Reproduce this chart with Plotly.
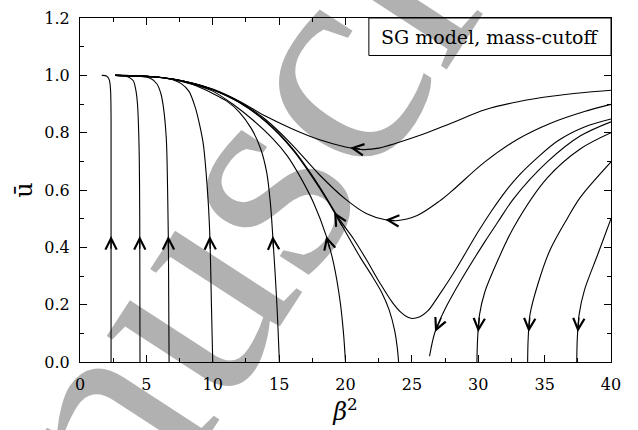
import numpy as np
import plotly.graph_objects as go

# ---- flow lines (beta^2, u-bar) ----
a1_x = [1.64, 2.0, 2.2, 2.3, 2.34, 2.34]
a1_y = [1.0, 0.998, 0.985, 0.95, 0.85, 0.0]
a2_x = [2.64, 3.5, 4.0, 4.2, 4.33, 4.45, 4.5, 4.52]
a2_y = [1.0, 0.997, 0.982, 0.95, 0.9, 0.75, 0.5, 0.0]
a3_x = [2.64, 4.5, 5.3, 5.8, 6.1, 6.28, 6.5, 6.6, 6.66, 6.71]
a3_y = [1.0, 0.997, 0.99, 0.97, 0.935, 0.89, 0.78, 0.6, 0.415, 0.0]
a4_x = [2.64, 4.5, 6.0, 7.0, 7.6, 8.2, 8.67, 9.0, 9.29, 9.5, 9.67, 9.8, 9.9, 10.0]
a4_y = [1.0, 0.997, 0.993, 0.985, 0.972, 0.945, 0.89, 0.83, 0.76, 0.66, 0.55, 0.415, 0.2, 0.0]
a5_x = [2.64, 5.5, 7.0, 8.5, 10.0, 11.06, 12.0, 12.9, 13.6, 14.07, 14.35, 14.52, 14.82, 15.02]
a5_y = [1.0, 0.995, 0.986, 0.968, 0.937, 0.91, 0.872, 0.815, 0.745, 0.66, 0.55, 0.44, 0.211, 0.0]
a6_x = [2.64, 5.5, 7.0, 8.5, 10.0, 11.5, 13.0, 14.5, 15.6, 16.6, 17.6, 18.55, 19.1, 19.6, 19.85, 20.0]
a6_y = [1.0, 0.995, 0.986, 0.969, 0.945, 0.9, 0.845, 0.78, 0.72, 0.645, 0.555, 0.44, 0.345, 0.21, 0.1, 0.0]
b1_x = [2.64, 4.0, 5.5, 7.0, 8.5, 10.0, 12.0, 14.0, 16.0, 18.0, 20.0, 21.3, 22.5,
        25.5, 28.0, 30.5, 33.0, 35.5, 38.0, 40.0]
b1_y = [1.0, 0.999, 0.995, 0.987, 0.972, 0.952, 0.91, 0.857, 0.813, 0.776, 0.75, 0.741, 0.746,
        0.789, 0.834, 0.88, 0.908, 0.927, 0.94, 0.948]
b2_x = [2.64, 4.0, 5.5, 7.0, 8.5, 10.0, 12.0, 14.0, 16.0, 18.0, 20.0, 21.6, 23.0, 23.8,
        25.4, 27.1, 28.0, 30.5, 33.0, 35.5, 38.0, 40.0]
b2_y = [1.0, 0.999, 0.995, 0.987, 0.972, 0.951, 0.908, 0.845, 0.757, 0.655, 0.568, 0.517, 0.496, 0.493,
        0.511, 0.562, 0.596, 0.698, 0.778, 0.834, 0.874, 0.899]
b3_x = [2.64, 4.0, 5.5, 7.0, 8.5, 10.0, 12.0, 14.0, 16.0, 18.0, 19.6, 20.6, 21.6, 22.6, 23.5,
        24.2, 24.7, 25.0, 25.6, 26.2, 27.0, 28.0, 29.0, 30.0, 31.0, 32.0, 33.0, 34.5, 36.0, 38.0, 40.0]
b3_y = [1.0, 0.999, 0.995, 0.987, 0.972, 0.95, 0.906, 0.84, 0.745, 0.615, 0.494, 0.43, 0.355, 0.275, 0.21,
        0.172, 0.156, 0.152, 0.158, 0.178, 0.23, 0.3, 0.377, 0.455, 0.527, 0.592, 0.648, 0.715, 0.772,
        0.82, 0.848]
b4_x = [2.64, 4.0, 5.5, 7.0, 8.5, 10.0, 12.0, 14.0, 16.0, 18.0, 19.44, 20.3, 21.1, 22.0, 22.7,
        23.3, 23.7, 23.9, 24.0]
b4_y = [1.0, 0.999, 0.995, 0.987, 0.972, 0.95, 0.905, 0.838, 0.742, 0.61, 0.5, 0.43, 0.366, 0.3, 0.245,
        0.18, 0.11, 0.05, 0.0]
b5_x = [26.33, 26.73, 27.48, 28.7, 30.5, 31.5, 32.7, 35.2, 37.7, 40.0]
b5_y = [0.02, 0.103, 0.183, 0.285, 0.42, 0.49, 0.572, 0.698, 0.789, 0.838]
c1_x = [29.9, 29.95, 30.1, 30.5, 31.4, 32.7, 35.2, 37.7, 40.0]
c1_y = [0.0, 0.08, 0.166, 0.245, 0.347, 0.472, 0.642, 0.744, 0.80]
c2_x = [33.72, 33.76, 33.9, 34.5, 35.4, 36.7, 37.7, 40.0]
c2_y = [0.0, 0.08, 0.166, 0.273, 0.39, 0.5, 0.575, 0.698]
c3_x = [37.42, 37.46, 37.6, 38.0, 39.0, 40.0]
c3_y = [0.0, 0.08, 0.166, 0.251, 0.375, 0.5]

curves = {
    "a1": (a1_x, a1_y), "a2": (a2_x, a2_y), "a3": (a3_x, a3_y),
    "a4": (a4_x, a4_y), "a5": (a5_x, a5_y), "a6": (a6_x, a6_y),
    "b1": (b1_x, b1_y), "b2": (b2_x, b2_y), "b3": (b3_x, b3_y),
    "b4": (b4_x, b4_y), "b5": (b5_x, b5_y),
    "c1": (c1_x, c1_y), "c2": (c2_x, c2_y), "c3": (c3_x, c3_y),
}

# ---- flow-direction arrows: curve, coordinate used ("y" or "x"), tip, tail ----
arrow_curve = ["a1", "a2", "a3", "a4", "a5", "a6", "b4", "b5", "c1", "c2", "c3", "b1", "b2"]
arrow_axis = ["y", "y", "y", "y", "y", "y", "y", "y", "y", "y", "y", "x", "x"]
arrow_tip = [0.44, 0.44, 0.44, 0.44, 0.44, 0.44, 0.523, 0.105, 0.105, 0.105, 0.105, 20.35, 23.0]
arrow_tail = [0.39, 0.39, 0.39, 0.39, 0.39, 0.39, 0.47, 0.16, 0.16, 0.16, 0.16, 21.2, 23.8]

x_ticks = [0, 5, 10, 15, 20, 25, 30, 35, 40]
y_ticks = [0.0, 0.2, 0.4, 0.6, 0.8, 1.0, 1.2]

legend_text = "SG model, mass-cutoff"
watermark_text = "manuscript"


def point_on(name, axis, v):
    xs, ys = np.array(curves[name][0]), np.array(curves[name][1])
    if axis == "y":
        order = np.argsort(ys, kind="stable")
        return float(np.interp(v, ys[order], xs[order])), v
    order = np.argsort(xs, kind="stable")
    return v, float(np.interp(v, xs[order], ys[order]))


fig = go.Figure()
for name, (xs, ys) in curves.items():
    fig.add_trace(go.Scatter(x=xs, y=ys, mode="lines",
                             line=dict(color="black", width=1.1, shape="spline", smoothing=0.9),
                             showlegend=False, hoverinfo="skip"))

annotations = []
for c, ax_, tp, tl in zip(arrow_curve, arrow_axis, arrow_tip, arrow_tail):
    tx, ty = point_on(c, ax_, tp)
    sx, sy = point_on(c, ax_, tl)
    annotations.append(dict(x=tx, y=ty, ax=sx, ay=sy, xref="x", yref="y",
                            axref="x", ayref="y", text="", showarrow=True,
                            arrowhead=5, arrowsize=1.7, arrowwidth=1.3,
                            arrowcolor="black"))

annotations.append(dict(x=0.772, y=0.9455, xref="paper", yref="paper",
                        text=legend_text, showarrow=False,
                        font=dict(family="DejaVu Serif", size=19, color="black"),
                        xanchor="center", yanchor="middle"))

annotations.append(dict(x=0.262, y=0.38, xref="paper", yref="paper",
                        text=watermark_text, showarrow=False, textangle=-57,
                        font=dict(family="Liberation Serif", size=305, color="black"),
                        opacity=0.3, xanchor="center", yanchor="middle"))

fig.add_shape(type="rect", xref="paper", yref="paper", x0=0.544, x1=1.0, y0=0.891, y1=1.0,
              line=dict(color="black", width=1), fillcolor="white", layer="above")

axis_common = dict(showline=True, linecolor="black", linewidth=1, mirror="ticks",
                   ticks="inside", ticklen=7, tickcolor="black", tickwidth=1,
                   showgrid=False, zeroline=False, ticklabeloverflow="allow",
                   tickfont=dict(family="DejaVu Serif", size=16, color="black"))

fig.update_layout(
    width=638, height=430,
    margin=dict(l=80, r=27, t=9, b=68),
    paper_bgcolor="white", plot_bgcolor="white",
    annotations=annotations,
    xaxis=dict(range=[0, 40.0001], tickvals=x_ticks, ticktext=[str(v) for v in x_ticks],
               minor=dict(ticks="inside", dtick=2.5, tick0=0, ticklen=4, tickcolor="black"),
               title=dict(text="<i>β</i><sup>2</sup>", standoff=0,
                          font=dict(family="DejaVu Serif", size=24, color="black")),
               ticklabelstandoff=8, **axis_common),
    yaxis=dict(range=[0, 1.2001], tickvals=y_ticks, ticktext=[f"{v:.1f}" for v in y_ticks],
               minor=dict(ticks="inside", dtick=0.1, tick0=0, ticklen=4, tickcolor="black"),
               title=dict(text="ū", standoff=4,
                          font=dict(family="DejaVu Serif", size=24, color="black")),
               ticklabelstandoff=6, **axis_common),
)

fig.write_html("out.html", config={"displayModeBar": False},
               post_script="document.body.style.margin='0px';document.body.style.overflow='hidden';")
